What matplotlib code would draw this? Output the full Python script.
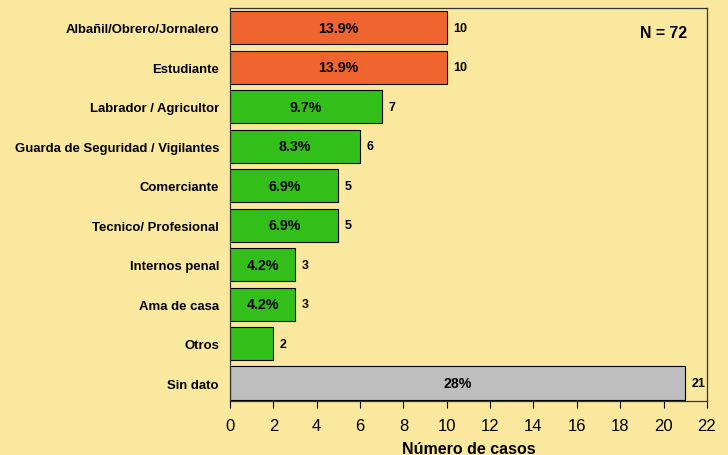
import numpy as np
import matplotlib.pyplot as plt

plt.rcParams['font.family'] = ['Liberation Sans', 'DejaVu Sans']

# ocupacion de los casos, de arriba hacia abajo
ocupaciones = ['Albañil/Obrero/Jornalero', 'Estudiante', 'Labrador / Agricultor',
               'Guarda de Seguridad / Vigilantes', 'Comerciante', 'Tecnico/ Profesional',
               'Internos penal', 'Ama de casa', 'Otros', 'Sin dato']
casos = [10, 10, 7, 6, 5, 5, 3, 3, 2, 21]
porcentajes = ['13.9%', '13.9%', '9.7%', '8.3%', '6.9%', '6.9%', '4.2%', '4.2%', '', '28%']
grupo = ['alto', 'alto', 'resto', 'resto', 'resto', 'resto', 'resto', 'resto', 'resto', 'nd']
n_total = 72

colores = {'alto': '#F06430', 'resto': '#33BF1A', 'nd': '#BEBEBE'}
fondo = '#FAE89E'

fig = plt.figure(figsize=(7.28, 4.56), dpi=100, facecolor=fondo)
ax = fig.add_axes([0.316, 0.118, 0.655, 0.862], facecolor=fondo)

y = np.arange(len(casos))[::-1]
ax.barh(y, casos, height=0.84, color=[colores[g] for g in grupo],
        edgecolor='black', linewidth=0.8, zorder=2)

for yi, v, p in zip(y, casos, porcentajes):
    if p:
        ax.text(v / 2, yi, p, ha='center', va='center', fontsize=10.2, fontweight='bold')
    ax.text(v + 0.3, yi, str(v), ha='left', va='center', fontsize=9, fontweight='bold')

ax.text(21.1, y[0] - 0.13, 'N = %d' % n_total, ha='right', va='center',
        fontsize=11.4, fontweight='bold')

ax.set_xlim(0, 22)
ax.set_ylim(-0.46, 9.5)
ax.set_xticks(range(0, 23, 2))
ax.set_yticks(y)
ax.set_yticklabels(ocupaciones, fontsize=9.45, fontweight='bold')
ax.tick_params(axis='y', length=0, pad=8)
ax.tick_params(axis='x', length=5, width=0.8, labelsize=12, pad=7)
for s in ax.spines.values():
    s.set_linewidth(0.9)
    s.set_color('#333333')
ax.set_xlabel('Número de casos', fontsize=11.5, fontweight='bold', labelpad=6)

fig.savefig('out.png', dpi=100, facecolor=fondo)
